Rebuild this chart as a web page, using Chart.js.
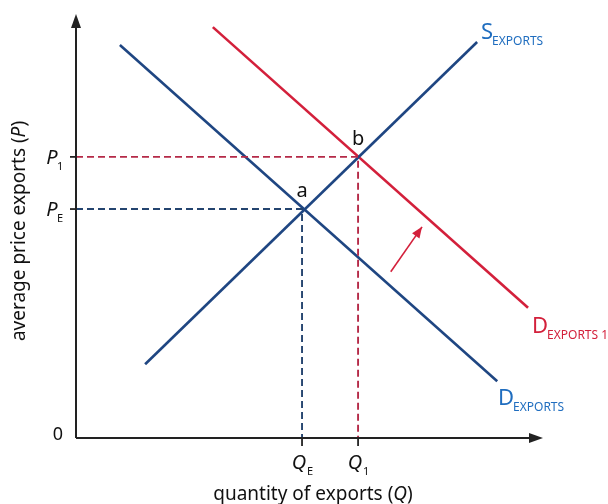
<!DOCTYPE html>
<html>
<head>
<meta charset="utf-8">
<script src="https://cdn.jsdelivr.net/npm/chart.js@4.4.1/dist/chart.umd.min.js"></script>
<style>
  html, body { margin: 0; padding: 0; background: #fff; }
  #wrap { width: 608px; height: 504px; position: relative; }
</style>
</head>
<body>
<div id="wrap"><canvas id="myChart"></canvas></div>
<script>
// curves (x = quantity, y = price), axis runs 0..100
const demandPts = [[9.4, 92.7], [90.2, 13.4]];
const supplyPts = [[14.8, 17.4], [85.9, 93.4]];
const demand1Pts = [[29.3, 96.9], [96.8, 30.7]];
const shiftArrow = [[67.4, 39.2], [74.1, 49.8]];

// equilibrium values
const qValues = [48.4, 60.4];   // QE, Q1
const pValues = [54.0, 66.3];   // PE, P1
const qLabels = [['Q', 'E'], ['Q', '1']];
const pLabels = [['P', 'E'], ['P', '1']];
const pointLabels = ['a', 'b'];

const NAVY = '#1f4682';
const RED = '#d3203b';
const LBLUE = '#1f6dbf';
const FONT = '"Noto Sans", "Open Sans", sans-serif';

const toXY = arr => arr.map(p => ({x: p[0], y: p[1]}));

const ctx = document.getElementById('myChart');

const overlay = {
  id: 'overlay',
  afterDatasetsDraw(chart) {
    const c = chart.ctx;
    const xs = chart.scales.x, ys = chart.scales.y;
    const X = v => xs.getPixelForValue(v), Y = v => ys.getPixelForValue(v);
    const left = X(0), bottom = Y(0);
    c.save();

    // axes with arrows
    c.strokeStyle = '#222'; c.fillStyle = '#222'; c.lineWidth = 2;
    c.beginPath();
    c.moveTo(left, bottom); c.lineTo(left, chart.chartArea.top + 8);
    c.moveTo(left, bottom); c.lineTo(chart.chartArea.right - 8, bottom);
    c.stroke();
    c.beginPath();
    c.moveTo(left, chart.chartArea.top); c.lineTo(left - 5, chart.chartArea.top + 14); c.lineTo(left + 5, chart.chartArea.top + 14); c.closePath(); c.fill();
    c.beginPath();
    c.moveTo(chart.chartArea.right, bottom); c.lineTo(chart.chartArea.right - 14, bottom - 5); c.lineTo(chart.chartArea.right - 14, bottom + 5); c.closePath(); c.fill();

    // tick marks
    c.lineWidth = 1.8;
    pValues.forEach(v => { c.beginPath(); c.moveTo(left - 6, Y(v)); c.lineTo(left, Y(v)); c.stroke(); });
    qValues.forEach(v => { c.beginPath(); c.moveTo(X(v), bottom); c.lineTo(X(v), bottom + 8); c.stroke(); });

    // shift arrow head
    const a0 = shiftArrow[0], a1 = shiftArrow[1];
    const x1 = X(a1[0]), y1 = Y(a1[1]);
    const ang = Math.atan2(y1 - Y(a0[1]), x1 - X(a0[0]));
    c.fillStyle = RED;
    c.beginPath();
    c.moveTo(x1, y1);
    c.lineTo(x1 - 11 * Math.cos(ang) + 4.5 * Math.sin(ang), y1 - 11 * Math.sin(ang) - 4.5 * Math.cos(ang));
    c.lineTo(x1 - 11 * Math.cos(ang) - 4.5 * Math.sin(ang), y1 - 11 * Math.sin(ang) + 4.5 * Math.cos(ang));
    c.closePath(); c.fill();

    // text
    c.fillStyle = '#111';
    c.textBaseline = 'alphabetic';
    c.textAlign = 'center';
    c.font = '18px ' + FONT;
    c.fillText('0', left - 18, bottom + 2);

    // point labels
    c.font = '20px ' + FONT;
    pointLabels.forEach((t, i) => c.fillText(t, X(qValues[i]), Y(pValues[i]) - 12));

    // P labels
    pLabels.forEach((l, i) => {
      c.textAlign = 'center';
      c.font = 'italic 20px ' + FONT;
      c.fillText(l[0], left - 24, Y(pValues[i]) + 7);
      c.font = '11px ' + FONT;
      c.textAlign = 'left';
      c.fillText(l[1], left - 19, Y(pValues[i]) + 13);
    });
    // Q labels
    qLabels.forEach((l, i) => {
      c.textAlign = 'center';
      c.font = 'italic 20px ' + FONT;
      c.fillText(l[0], X(qValues[i]) - 3, bottom + 31);
      c.font = '11px ' + FONT;
      c.textAlign = 'left';
      c.fillText(l[1], X(qValues[i]) + 5, bottom + 37);
    });

    // axis titles
    c.textAlign = 'left';
    const SZ = '19px ';
    const xt1 = 'quantity of exports (', xt2 = 'Q', xt3 = ')';
    c.font = SZ + FONT;
    let w1 = c.measureText(xt1).width, w3 = c.measureText(xt3).width;
    c.font = 'italic ' + SZ + FONT;
    let w2 = c.measureText(xt2).width;
    let sx = 313 - (w1 + w2 + w3) / 2;
    c.font = SZ + FONT; c.fillText(xt1, sx, 500);
    c.font = 'italic ' + SZ + FONT; c.fillText(xt2, sx + w1, 500);
    c.font = SZ + FONT; c.fillText(xt3, sx + w1 + w2, 500);

    c.save();
    c.translate(25, 231);
    c.rotate(-Math.PI / 2);
    const yt1 = 'average price exports (', yt2 = 'P', yt3 = ')';
    c.font = SZ + FONT;
    w1 = c.measureText(yt1).width; w3 = c.measureText(yt3).width;
    c.font = 'italic ' + SZ + FONT;
    w2 = c.measureText(yt2).width;
    sx = -(w1 + w2 + w3) / 2;
    c.font = SZ + FONT; c.fillText(yt1, sx, 0);
    c.font = 'italic ' + SZ + FONT; c.fillText(yt2, sx + w1, 0);
    c.font = SZ + FONT; c.fillText(yt3, sx + w1 + w2, 0);
    c.restore();

    // curve labels
    const curveLabel = (big, small, x, y, color) => {
      c.fillStyle = color;
      c.textAlign = 'left';
      c.font = '22px ' + FONT;
      c.fillText(big, x, y);
      const bw = c.measureText(big).width;
      c.font = '12px ' + FONT;
      c.fillText(small, x + bw - 1, y + 6);
    };
    curveLabel('S', 'EXPORTS', 481, 39, LBLUE);
    curveLabel('D', 'EXPORTS 1', 532, 333, RED);
    curveLabel('D', 'EXPORTS', 498, 405, LBLUE);

    c.restore();
  }
};

const lineDs = (pts, color, extra) => Object.assign({
  data: toXY(pts), showLine: true, borderColor: color, borderWidth: 2.6,
  pointRadius: 0, fill: false, clip: false
}, extra || {});

new Chart(ctx, {
  type: 'scatter',
  data: {
    datasets: [
      lineDs([[0, pValues[0]], [qValues[0], pValues[0]], [qValues[0], 0]], '#24446f', {borderWidth: 1.9, borderDash: [7, 4]}),
      lineDs([[0, pValues[1]], [qValues[1], pValues[1]], [qValues[1], 0]], '#b52a48', {borderWidth: 1.9, borderDash: [7, 4]}),
      lineDs(demandPts, NAVY),
      lineDs(supplyPts, NAVY),
      lineDs(demand1Pts, RED),
      lineDs(shiftArrow, RED, {borderWidth: 1.6})
    ]
  },
  options: {
    responsive: true,
    maintainAspectRatio: false,
    animation: false,
    layout: { padding: { left: 76, right: 65, top: 14, bottom: 66 } },
    plugins: { legend: { display: false }, tooltip: { enabled: false } },
    scales: {
      x: { type: 'linear', min: 0, max: 100, display: false },
      y: { type: 'linear', min: 0, max: 100, display: false }
    }
  },
  plugins: [overlay]
});
</script>
</body>
</html>
